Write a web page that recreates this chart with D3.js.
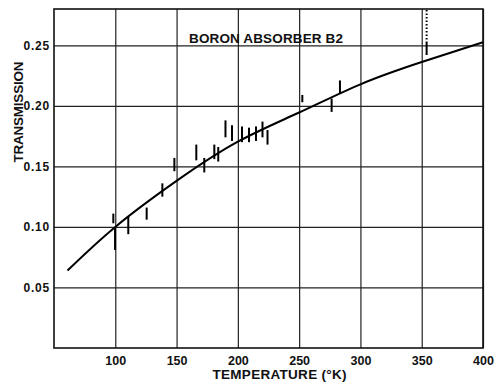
<!DOCTYPE html>
<html>
<head>
<meta charset="utf-8">
<script src="https://cdn.jsdelivr.net/npm/d3@7"></script>
<style>
  body { margin: 0; background: #fff; }
  svg text { font-family: "Liberation Sans", Arial, sans-serif; fill: #111; }
</style>
</head>
<body>
<svg width="499" height="385"></svg>
<script>
// Ejes
const xTicks = [100, 150, 200, 250, 300, 350, 400];
const yTicks = [0.05, 0.10, 0.15, 0.20, 0.25];

// Curva ajustada
const curveT = [61, 100, 150, 200, 250, 300, 350, 400];
const curveV = [0.064, 0.100, 0.138, 0.1704, 0.1945, 0.2178, 0.2362, 0.2525];

// Medidas: temperatura y extremos de la barra de error
const pointT  = [98.4, 99.8, 110.6, 125.6, 138.4, 148.2, 166.1, 172.6, 180.8, 184.0,
                 189.9, 195.2, 203.4, 209.1, 214.8, 220.1, 224.2, 252.6, 276.5, 283.3, 354];
const pointLo = [0.103, 0.081, 0.094, 0.106, 0.125, 0.146, 0.155, 0.145, 0.156, 0.154,
                 0.174, 0.171, 0.170, 0.170, 0.171, 0.174, 0.168, 0.203, 0.195, 0.210, 0.242];
const pointHi = [0.111, 0.099, 0.109, 0.116, 0.136, 0.157, 0.168, 0.157, 0.168, 0.166,
                 0.188, 0.184, 0.183, 0.182, 0.183, 0.187, 0.180, 0.209, 0.206, 0.221, 0.252];
// Barras que se salen por arriba (punteadas)
const openTop = [354];

const svg = d3.select("svg");
const x = d3.scaleLinear().domain([50, 400]).range([54, 483]);
const y = d3.scaleLinear().domain([0, 0.28]).range([348, 9]);
const [xLeft, xRight] = x.range();
const [yBottom, yTop] = y.range();

// Rejilla vertical + etiquetas X
const gx = svg.append("g")
    .attr("transform", `translate(0,${yBottom})`)
    .call(d3.axisBottom(x).tickValues(xTicks).tickSize(-(yBottom - yTop)).tickPadding(8).tickFormat(d3.format("d")));
gx.select(".domain").remove();
gx.selectAll("line").attr("stroke", "#222").attr("stroke-width", 1.2);
gx.selectAll("text").attr("font-size", "12.5px").attr("font-weight", "bold").attr("fill", "#111");

// Rejilla horizontal + etiquetas Y
const gy = svg.append("g")
    .attr("transform", `translate(${xLeft},0)`)
    .call(d3.axisLeft(y).tickValues(yTicks).tickSize(-(xRight - xLeft)).tickPadding(4).tickFormat(d3.format(".2f")));
gy.select(".domain").remove();
gy.selectAll("line").attr("stroke", "#222").attr("stroke-width", 1.2);
gy.selectAll("text").attr("font-size", "12px").attr("font-weight", "bold")
  .attr("letter-spacing", "0.8px").attr("fill", "#111");

// Marco
svg.append("rect")
   .attr("x", xLeft).attr("y", yTop)
   .attr("width", xRight - xLeft).attr("height", yBottom - yTop)
   .attr("fill", "none").attr("stroke", "#111").attr("stroke-width", 1.6);

// Curva
const line = d3.line().x(d => x(d[0])).y(d => y(d[1])).curve(d3.curveNatural);
svg.append("path")
   .datum(curveT.map((t, i) => [t, curveV[i]]))
   .attr("d", line)
   .attr("fill", "none").attr("stroke", "#000").attr("stroke-width", 2);

// Barras de error
const pts = pointT.map((t, i) => ({ t, lo: pointLo[i], hi: pointHi[i] }));
svg.selectAll("line.bar")
   .data(pts)
   .enter()
   .append("line")
   .attr("class", "bar")
   .attr("x1", d => x(d.t)).attr("x2", d => x(d.t))
   .attr("y1", d => y(d.lo)).attr("y2", d => y(d.hi))
   .attr("stroke", "#000").attr("stroke-width", 2);

svg.selectAll("line.open")
   .data(pts.filter(d => openTop.includes(d.t)))
   .enter()
   .append("line")
   .attr("class", "open")
   .attr("x1", d => x(d.t)).attr("x2", d => x(d.t))
   .attr("y1", d => y(d.hi)).attr("y2", yTop)
   .attr("stroke", "#000").attr("stroke-width", 2)
   .attr("stroke-dasharray", "1.5,2");

// Textos
svg.append("text")
   .attr("x", 189).attr("y", 43)
   .attr("font-size", "13.5px").attr("font-weight", "bold").attr("textLength", 154)
   .text("BORON ABSORBER B2");

svg.append("text")
   .attr("x", (xLeft + xRight) / 2 + 11).attr("y", 379)
   .attr("text-anchor", "middle")
   .attr("font-size", "13.5px").attr("font-weight", "bold").attr("textLength", 134)
   .text("TEMPERATURE (°K)");

svg.append("text")
   .attr("transform", "translate(23,112) rotate(-90)")
   .attr("text-anchor", "middle")
   .attr("font-size", "13.5px").attr("font-weight", "bold").attr("textLength", 101)
   .text("TRANSMISSION");
</script>
</body>
</html>
